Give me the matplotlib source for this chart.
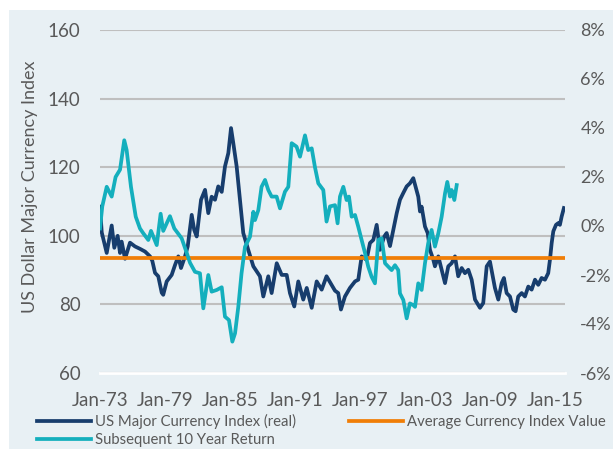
import matplotlib
matplotlib.use("Agg")
import matplotlib.pyplot as plt
import numpy as np
from matplotlib.lines import Line2D
from matplotlib.patches import Rectangle
from matplotlib.ticker import FuncFormatter

# US Major Currency Index (real), years after Jan-73 -> index value
idx_t = [
    0.00, 0.16, 0.62, 1.08, 1.32, 1.63, 1.85, 2.00, 2.31, 2.77, 3.23, 3.69, 4.16, 4.62,
    4.83, 5.08, 5.38, 5.70, 5.84, 6.16, 6.62, 6.93, 7.23, 7.48, 7.85, 8.10, 8.47, 8.70,
    8.93, 9.33, 9.70, 10.00, 10.31, 10.62, 10.92, 11.24, 11.54, 11.85, 12.10, 12.31,
    12.62, 12.93, 13.23, 13.69, 14.16, 14.77, 15.08, 15.54, 15.85, 16.32, 16.78, 17.24,
    17.54, 17.94, 18.31, 18.77, 19.09, 19.55, 20.01, 20.47, 20.92, 21.39, 21.70, 22.00,
    22.25, 22.62, 23.08, 23.55, 23.85, 24.16, 24.62, 24.93, 25.24, 25.55, 25.85, 26.25,
    26.47, 26.78, 27.08, 27.40, 27.70, 28.01, 28.32, 28.62, 28.93, 29.39, 29.55, 29.70,
    30.01, 30.26, 30.47, 30.78, 30.93, 31.24, 31.55, 31.86, 32.16, 32.47, 32.78, 33.08,
    33.40, 33.70, 34.01, 34.32, 34.63, 35.09, 35.39, 35.71, 36.01, 36.32, 36.47, 36.78,
    37.09, 37.30, 37.55, 37.86, 38.16, 38.38, 38.62, 38.94, 39.24, 39.55, 39.86, 40.17,
    40.47, 40.78, 41.09, 41.39, 41.55, 41.71, 41.86, 42.11, 42.32, 42.47, 42.63, 42.84,
]
idx_val = [
    108.5, 101.0, 95.0, 103.0, 96.5, 100.0, 95.0, 98.3, 93.3, 98.0, 96.9, 96.2, 95.4, 94.0,
    92.7, 89.2, 88.2, 83.4, 82.8, 86.7, 88.6, 91.5, 94.0, 90.6, 94.0, 96.9, 106.1, 101.7,
    99.8, 110.5, 113.4, 106.6, 111.4, 110.5, 114.4, 112.8, 120.2, 124.1, 131.4, 127.0,
    120.2, 110.5, 100.8, 95.9, 91.1, 88.2, 82.3, 88.2, 83.3, 92.0, 88.6, 88.6,
    83.3, 79.4, 86.7, 81.4, 84.8, 79.0, 86.7, 84.3, 88.2, 85.7, 84.0, 83.3,
    78.5, 82.3, 84.8, 86.7, 87.2, 94.0, 93.0, 97.9, 98.8, 103.2, 95.9, 99.8,
    100.8, 97.0, 101.7, 106.6, 110.5, 112.5, 114.4, 115.3, 116.8, 111.4, 107.1, 108.5,
    102.7, 100.8, 95.9, 93.0, 91.1, 94.0, 90.1, 86.2, 91.1, 92.0, 94.0, 88.2,
    90.6, 89.1, 90.1, 87.2, 81.4, 79.0, 80.4, 91.1, 92.5, 87.2, 84.8, 81.4,
    86.2, 87.7, 83.3, 82.3, 78.5, 78.0, 82.3, 83.3, 82.3, 85.2, 84.3, 87.2,
    85.7, 87.7, 87.2, 89.1, 93.0, 97.9, 101.3, 103.2, 103.7, 103.2, 105.6, 108.1,
]

# Subsequent 10 year return (%), years after Jan-73
ret_t = [
    0.00, 0.21, 0.62, 1.08, 1.44, 1.85, 2.24, 2.46, 2.86, 3.30, 3.69, 4.00, 4.46, 4.71,
    5.24, 5.60, 5.84, 6.46, 6.86, 7.54, 8.01, 8.31, 8.77, 9.23, 9.54, 10.00, 10.31, 10.78,
    11.24, 11.54, 11.91, 12.22, 12.47, 12.77, 13.07, 13.39, 13.85, 14.16, 14.31, 14.62,
    14.92, 15.24, 15.54, 15.85, 16.31, 16.62, 17.08, 17.39, 17.70, 18.15, 18.47, 18.93,
    19.23, 19.55, 19.85, 20.16, 20.62, 20.92, 21.24, 21.70, 21.94, 22.16, 22.47, 22.77,
    22.99, 23.24, 23.55, 23.85, 24.16, 24.47, 24.77, 25.08, 25.39, 25.70, 26.01, 26.32,
    26.62, 26.93, 27.24, 27.54, 27.70, 28.01, 28.32, 28.62, 28.93, 29.09, 29.39, 29.70,
    30.01, 30.31, 30.62, 30.93, 31.24, 31.55, 31.86, 32.07, 32.32, 32.47, 32.72, 32.94,
]
ret_pct = [
    -0.10, 0.80, 1.60, 1.20, 2.00, 2.30, 3.50, 3.10, 1.60, 0.38, -0.10, -0.30, -0.57, -0.20,
    -0.78, 0.50, -0.20, 0.40, -0.10, -0.50, -1.10, -1.50, -1.87, -1.93, -3.36, -2.00, -2.68, -2.61,
    -2.50, -3.70, -3.84, -4.72, -4.38, -3.30, -1.93, -0.85, -0.44, 0.58, 0.24, 0.65,
    1.60, 1.88, 1.47, 1.20, 1.20, 0.72, 1.40, 1.60, 3.38, 3.24, 2.83, 3.70,
    3.10, 3.17, 2.40, 1.74, 1.47, 0.18, 0.80, 0.85, 0.11, 1.20, 1.60, 1.06,
    1.20, 0.38, 0.45, -0.03, -0.57, -1.10, -1.66, -2.07, -2.34, -0.57, -0.50, -1.52,
    -1.66, -1.80, -1.60, -1.80, -2.75, -3.02, -3.77, -3.16, -3.23, -3.30, -2.34, -2.61,
    -1.52, -0.70, -0.16, -0.84, -0.30, 0.38, 1.33, 1.80, 1.20, 1.47, 1.06, 1.67,
]

avg_index = 93.4
start_year = 1973
end_offset = 42.84
tick_years = [1973, 1979, 1985, 1991, 1997, 2003, 2009, 2015]
tick_labels = ["Jan-73", "Jan-79", "Jan-85", "Jan-91", "Jan-97", "Jan-03", "Jan-09", "Jan-15"]

NAVY = "#173d6d"
TEAL = "#14afbd"
ORANGE = "#f07e07"
GREY_TXT = "#595959"
BG = "#e8f0f4"

plt.rcParams["font.family"] = ["Lato", "DejaVu Sans"]

fig = plt.figure(figsize=(6.13, 4.49), dpi=100)
fig.patch.set_facecolor("white")
fig.add_artist(Rectangle((9 / 613, 0), 1, 1 - 10 / 449, transform=fig.transFigure,
                         facecolor=BG, edgecolor="none", zorder=-10))

ax = fig.add_axes([100 / 613, 1 - 373 / 449, 465 / 613, 343 / 449])
ax.set_facecolor("none")
ax2 = ax.twinx()
ax2.set_facecolor("none")

x_idx = start_year + np.array(idx_t)
x_ret = start_year + np.array(ret_t)

ax.plot(x_idx, idx_val, color=NAVY, lw=2.7, solid_joinstyle="round", zorder=3)
ax.plot([start_year, start_year + end_offset], [avg_index, avg_index], color=ORANGE, lw=2.7, zorder=4)
ax2.plot(x_ret, np.array(ret_pct) / 100, color=TEAL, lw=2.7, solid_joinstyle="round", zorder=3)

ax.set_xlim(start_year, start_year + 42.94)
ax.set_ylim(60, 160)
ax.set_yticks([60, 80, 100, 120, 140, 160])
ax2.set_ylim(-0.06, 0.08)
ax2.set_yticks(np.arange(-0.06, 0.081, 0.02))
ax2.yaxis.set_major_formatter(FuncFormatter(lambda v, p: f"{v * 100:.0f}%"))

ax.set_xticks(tick_years)
ax.set_xticklabels(tick_labels)

ax.grid(axis="y", color="#bfbfbf", lw=1.5)
ax.set_axisbelow(True)
for a in (ax, ax2):
    for s in a.spines.values():
        s.set_visible(False)
ax.spines["bottom"].set_visible(True)
ax.spines["bottom"].set_color("white")
ax.spines["bottom"].set_linewidth(2)

ax.tick_params(axis="both", length=0, labelsize=13.5, colors=GREY_TXT)
ax.tick_params(axis="y", pad=14)
ax.tick_params(axis="x", pad=14)
ax2.tick_params(axis="y", length=0, labelsize=13, colors=GREY_TXT, pad=11)

fig.text(30 / 613, 1 - 187 / 449, "US Dollar Major Currency Index", rotation=90,
         ha="center", va="center", fontsize=13, color=GREY_TXT)

handles = [
    Line2D([], [], color=NAVY, lw=2.7),
    Line2D([], [], color=TEAL, lw=2.7),
    Line2D([], [], color=ORANGE, lw=2.7),
]
labels = ["US Major Currency Index (real)", "Subsequent 10 Year Return", "Average Currency Index Value"]
fig.legend(handles, labels, ncol=2, loc="upper left", bbox_to_anchor=(37 / 613, 1 - 414 / 449),
           frameon=False, fontsize=10.7, labelcolor=GREY_TXT, handlelength=3.6, handletextpad=0.3,
           columnspacing=3.6, labelspacing=0.25, borderaxespad=0, borderpad=0)

fig.savefig("out.png", dpi=100, facecolor=fig.get_facecolor())
